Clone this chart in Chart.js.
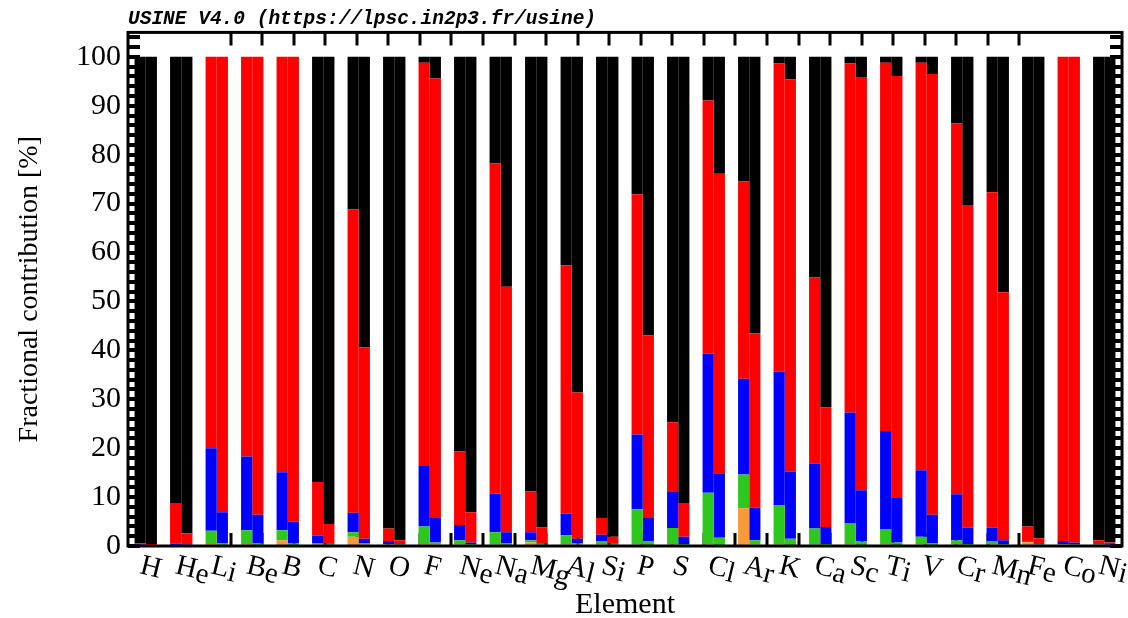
<!DOCTYPE html>
<html>
<head>
  <title>USINE - Fractional contribution</title>
  <script src="https://cdn.jsdelivr.net/npm/chart.js"></script>
  <style>
    body { margin: 0; background: #fff; }
  </style>
</head>
<body>
  <canvas id="grafico" width="1128" height="618"></canvas>

  <script>
    // Elements (x categories)
    var elements = ["H","He","Li","Be","B","C","N","O","F","Ne","Na","Mg","Al","Si",
                    "P","S","Cl","Ar","K","Ca","Sc","Ti","V","Cr","Mn","Fe","Co","Ni"];

    // Cumulative levels [%], left bar of each pair (A)
    var orangeA = [0.2,0.2,0.4,0.4,1.2,0.3,1.9,0.3,0.4,0.3,0.3,0.7,0.3,0.3,
                   0.3,0.3,0.3,7.7,0.3,0.3,0.3,0.3,0.3,0.3,0.3,0.7,0.3,0.2];
    var greenA  = [0.2,0.2,3.1,3.2,3.2,0.6,2.8,0.4,4.0,1.2,2.8,1.2,2.2,0.9,
                   7.5,3.7,10.9,14.6,8.3,3.6,4.6,3.5,1.9,1.2,1.0,0.8,0.4,0.3];
    var blueA   = [0.3,0.5,20.0,18.3,15.1,2.1,6.8,1.0,16.5,4.3,10.7,2.8,6.6,2.3,
                   22.8,11.2,39.3,34.2,35.7,16.8,27.3,23.5,15.5,10.6,3.8,0.9,1.0,0.4];
    var redA    = [0.5,8.8,100,100,100,13.1,68.8,3.6,98.8,19.3,78.2,11.2,57.4,5.7,
                   71.9,25.3,91.1,74.5,98.7,54.9,98.7,98.8,98.8,86.4,72.3,4.0,100,1.2];

    // right bar of each pair (B)
    var orangeB = [0.2,0.2,0.2,0.2,0.2,0.2,0.3,0.2,0.3,0.2,0.2,0.2,0.3,0.2,
                   0.2,0.2,0.2,0.3,0.2,0.2,0.2,0.2,0.2,0.2,0.2,0.2,0.2,0.2];
    var greenB  = [0.2,0.2,0.5,0.5,0.5,0.3,0.5,0.3,0.7,0.4,0.5,0.3,0.5,0.3,
                   0.9,0.4,1.7,1.2,1.5,0.4,0.9,0.7,0.5,0.4,0.3,0.3,0.3,0.2];
    var blueB   = [0.2,0.3,6.9,6.4,5.0,0.5,1.5,0.4,5.7,0.7,2.8,0.5,1.5,0.5,
                   5.7,1.9,14.7,7.8,15.2,3.9,11.4,9.8,6.4,3.8,1.2,0.4,0.7,0.3];
    var redB    = [0.4,2.6,100,100,100,4.5,40.6,1.2,95.6,6.9,53.0,3.8,31.4,1.9,
                   43.1,8.8,76.1,43.5,95.4,28.3,95.9,96.1,96.5,69.7,51.9,1.6,100,0.7];

    var yTicks = [0,10,20,30,40,50,60,70,80,90,100];
    var yMinorStep = 2;
    var xDivisions = 27;

    var colors = { orange: "#f89a3a", green: "#2dc81e", blue: "#0000ff", red: "#ff0000", black: "#000000" };
    var serif = '"Liberation Serif", "Times New Roman", serif';

    // segment heights for the stacked bars
    function seg(top, bottom) {
      return top.map(function (v, i) { return +(v - (bottom ? bottom[i] : 0)).toFixed(2); });
    }
    function rest(top) {
      return top.map(function (v) { return +(100 - v).toFixed(2); });
    }

    var datasets = [];
    [["a", orangeA, greenA, blueA, redA], ["b", orangeB, greenB, blueB, redB]].forEach(function (s) {
      var parts = [
        ["orange", seg(s[1])],
        ["green", seg(s[2], s[1])],
        ["blue", seg(s[3], s[2])],
        ["red", seg(s[4], s[3])],
        ["black", rest(s[4])]
      ];
      parts.forEach(function (p) {
        datasets.push({
          label: p[0] + " " + s[0],
          data: p[1],
          backgroundColor: colors[p[0]],
          borderWidth: 0,
          stack: s[0],
          xAxisID: "x",
          yAxisID: "y"
        });
      });
    });

    // frame, inner ticks and tilted element labels
    var cadre = {
      id: "cadre",
      beforeDatasetsDraw: function (chart) {
        var ctx = chart.ctx, a = chart.chartArea, sc = chart.scales;
        ctx.save();
        ctx.strokeStyle = "#000";
        ctx.lineWidth = 4;
        ctx.beginPath();
        for (var v = 0; v <= 105; v += yMinorStep) {
          var y = Math.round(sc.y.getPixelForValue(v));
          ctx.moveTo(a.left, y); ctx.lineTo(a.left + 12, y);
          ctx.moveTo(a.right, y); ctx.lineTo(a.right - 12, y);
        }
        ctx.stroke();
        ctx.lineWidth = 3;
        ctx.beginPath();
        for (var i = 1; i < xDivisions; i++) {
          var x = Math.round(sc.xd.getPixelForValue(i));
          ctx.moveTo(x, a.top); ctx.lineTo(x, a.top + 13);
          ctx.moveTo(x, a.bottom); ctx.lineTo(x, a.bottom - 13);
        }
        ctx.stroke();
        ctx.restore();
      },
      afterDatasetsDraw: function (chart) {
        var ctx = chart.ctx, a = chart.chartArea, sc = chart.scales;
        ctx.save();
        ctx.strokeStyle = "#000";
        ctx.lineWidth = 3;
        ctx.strokeRect(a.left, a.top, a.right - a.left, a.bottom - a.top);

        ctx.fillStyle = "#000";
        ctx.font = "29px " + serif;
        ctx.textAlign = "left";
        ctx.textBaseline = "alphabetic";
        elements.forEach(function (el, i) {
          var cx = sc.x.getPixelForValue(i);
          ctx.save();
          ctx.translate(cx - 7, a.bottom + 27);
          ctx.rotate(0.24);
          ctx.fillText(el[0], 0, 0);
          if (el.length > 1) {
            ctx.fillText(el.slice(1), ctx.measureText(el[0]).width, 3);
          }
          ctx.restore();
        });
        ctx.restore();
      }
    };

    new Chart(document.getElementById("grafico").getContext("2d"), {
      type: "bar",
      data: { labels: elements, datasets: datasets },
      plugins: [cadre],
      options: {
        responsive: false,
        animation: false,
        layout: { padding: { left: 0, right: 6, top: 0, bottom: 0 } },
        datasets: { bar: { barPercentage: 1.0, categoryPercentage: 0.63 } },
        plugins: {
          legend: { display: false },
          tooltip: { enabled: false },
          title: {
            display: true,
            text: "USINE V4.0 (https://lpsc.in2p3.fr/usine)",
            align: "start",
            fullSize: false,
            color: "#000",
            font: { family: '"Liberation Mono", monospace', size: 19.5, weight: "bold", style: "italic" },
            padding: { top: 7, bottom: 2 }
          }
        },
        scales: {
          x: {
            type: "category",
            stacked: true,
            offset: true,
            grid: { display: false },
            border: { display: false },
            ticks: { display: false },
            title: {
              display: true,
              text: "Element",
              color: "#000",
              font: { family: serif, size: 30, lineHeight: 1 },
              padding: { top: 0, bottom: -2 }
            },
            afterFit: function (s) { s.height = 72; }
          },
          xd: {
            type: "linear",
            axis: "x",
            position: "bottom",
            min: 0,
            max: xDivisions,
            display: false
          },
          y: {
            stacked: true,
            min: 0,
            max: 105,
            grid: { display: false, drawTicks: false },
            border: { display: false },
            afterBuildTicks: function (s) { s.ticks = yTicks.map(function (v) { return { value: v }; }); },
            ticks: { color: "#000", padding: 7, font: { family: serif, size: 30 } },
            title: {
              display: true,
              text: "Fractional contribution [%]",
              color: "#000",
              font: { family: serif, size: 28, lineHeight: 1 },
              padding: { top: 16, bottom: 0 }
            },
            afterFit: function (s) { s.width = 128; }
          }
        }
      }
    });
  </script>
</body>
</html>
